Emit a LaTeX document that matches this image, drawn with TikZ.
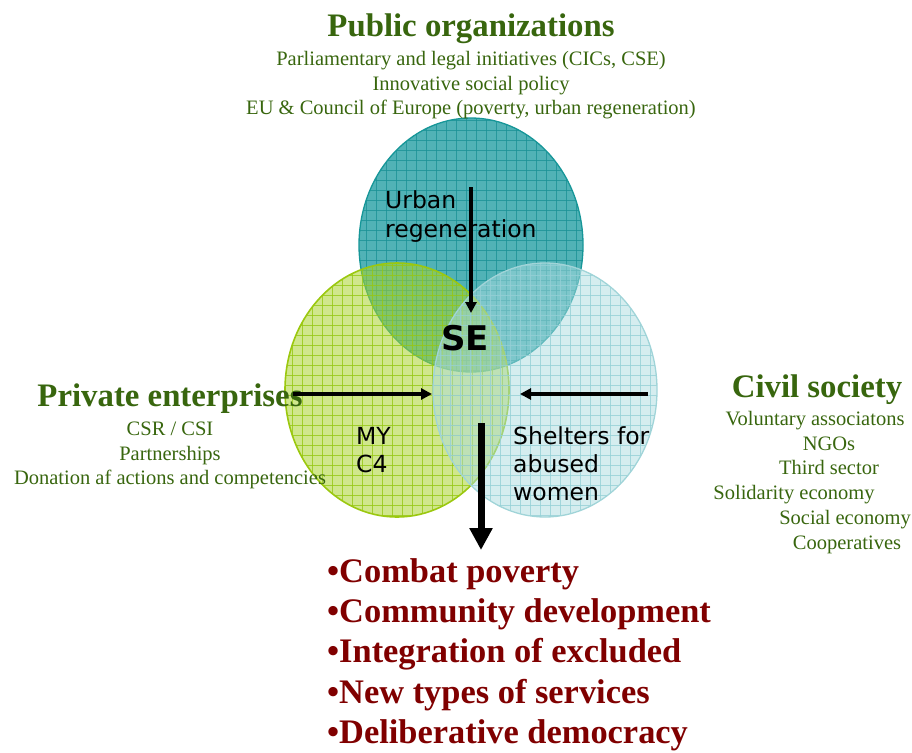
\documentclass[tikz,border=0pt]{standalone}
\usepackage{fontspec}
\setmainfont{Liberation Serif}
\setsansfont{DejaVu Sans}
\usetikzlibrary{arrows.meta,shapes.geometric}
\definecolor{titlegreen}{RGB}{56,102,14}
\definecolor{darkred}{RGB}{128,0,0}
\definecolor{tealfill}{RGB}{62,170,174}
\definecolor{tealgrid}{RGB}{28,146,150}
\definecolor{tealedge}{RGB}{22,150,152}
\definecolor{limefill}{RGB}{170,212,45}
\definecolor{limegrid}{RGB}{150,200,20}
\definecolor{limeedge}{RGB}{155,200,15}
\definecolor{icefill}{RGB}{172,220,224}
\definecolor{icegrid}{RGB}{150,208,214}
\definecolor{iceedge}{RGB}{160,212,216}
\tikzset{
  venn/.style={ellipse, inner sep=0pt, minimum width=224pt, minimum height=254pt},
  gridded/.style={path picture={
     \foreach \g in {-125,-115,...,125} {
       \draw[#1, line width=0.8pt, draw opacity=0.8]
         ([xshift=\g pt]path picture bounding box.center) ++(0,-140) -- ++(0,280);
       \draw[#1, line width=0.8pt, draw opacity=0.8]
         ([yshift=\g pt]path picture bounding box.center) ++(-130,0) -- ++(260,0);
     }}},
  headtxt/.style={font=\fontsize{32.8}{38}\selectfont\bfseries, text=titlegreen, anchor=base, inner sep=0pt},
  subtxt/.style={font=\fontsize{20.5}{24}\selectfont, text=titlegreen, anchor=base, inner sep=0pt},
  intxt/.style={font=\sffamily\fontsize{23.5}{28}\selectfont, anchor=base west, inner sep=0pt},
  goaltxt/.style={font=\fontsize{34.4}{40}\selectfont\bfseries, text=darkred, anchor=base west, inner sep=0pt},
  thinarrow/.style={line width=3.5pt, -{Triangle[length=11pt,width=11pt]}},
  fatarrow/.style={line width=7pt, -{Triangle[length=22pt,width=22pt]}}
}
\begin{document}
\begin{tikzpicture}[x=1pt,y=-1pt]
\useasboundingbox (0,0) rectangle (912,752);
% circles
\node[venn, fill=tealfill, fill opacity=0.9, draw=tealedge, line width=1.3pt, gridded=tealgrid] (pub) at (471,245) {};
\node[venn, fill=limefill, fill opacity=0.55, draw=limeedge, line width=1.6pt, gridded=limegrid] (priv) at (397,390) {};
\node[venn, fill=icefill, fill opacity=0.5, draw=iceedge, line width=1.3pt, gridded=icegrid] (civ) at (545,390) {};

% titles
\node[headtxt] (pubh) at (471,37) {Public organizations};
\node[subtxt] (pub1) at (471,65) {Parliamentary and legal initiatives (CICs, CSE)};
\node[subtxt] (pub2) at (471,90) {Innovative social policy};
\node[subtxt] (pub3) at (471,114) {EU \& Council of Europe (poverty, urban regeneration)};

\node[headtxt] (privh) at (170,406) {Private enterprises};
\node[subtxt] (priv1) at (170,435) {CSR / CSI};
\node[subtxt] (priv2) at (170,460) {Partnerships};
\node[subtxt] (priv3) at (170,484) {Donation af actions and competencies};

\node[headtxt] (civh) at (817,397) {Civil society};
\node[subtxt] (civ1) at (815,425) {Voluntary associatons};
\node[subtxt] (civ2) at (829,450) {NGOs};
\node[subtxt] (civ3) at (829,474) {Third sector};
\node[subtxt] (civ4) at (794,499) {Solidarity economy};
\node[subtxt] (civ5) at (845,524) {Social economy};
\node[subtxt] (civ6) at (847,549) {Cooperatives};

% inner texts
\node[intxt] (urb1) at (385,208) {Urban};
\node[intxt] (urb2) at (385,237) {regeneration};
\node[font=\sffamily\bfseries\fontsize{34}{40}\selectfont, anchor=base, inner sep=0pt] (se) at (465,350) {SE};
\node[intxt] (my1) at (356,444) {MY};
\node[intxt] (my2) at (356,472) {C4};
\node[intxt] (sh1) at (513,444) {Shelters for};
\node[intxt] (sh2) at (513,472) {abused};
\node[intxt] (sh3) at (513,500) {women};

% arrows
\coordinate (vtop) at (471,187);
\coordinate (vtip) at (471,313);
\coordinate (ltail) at (293,394);
\coordinate (ltip) at (432,394);
\coordinate (rtail) at (648,394);
\coordinate (rtip) at (520,394);
\coordinate (btop) at (481,423);
\coordinate (btip) at (481,550);
\draw[thinarrow] (vtop) -- (vtip);
\draw[thinarrow] (ltail) -- (ltip);
\draw[thinarrow] (rtail) -- (rtip);
\draw[fatarrow] (btop) -- (btip);

% goals
\node[goaltxt] (g1) at (327,582) {•Combat poverty};
\node[goaltxt] (g2) at (327,622) {•Community development};
\node[goaltxt] (g3) at (327,662) {•Integration of excluded};
\node[goaltxt] (g4) at (327,703) {•New types of services};
\node[goaltxt] (g5) at (327,743) {•Deliberative democracy};
\end{tikzpicture}
\end{document}
